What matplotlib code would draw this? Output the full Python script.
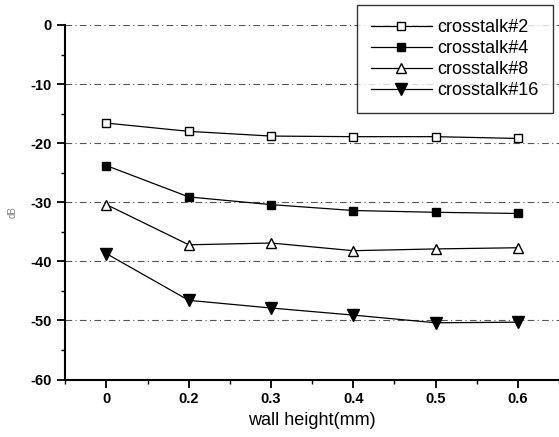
import matplotlib
matplotlib.use("Agg")
import matplotlib.pyplot as plt
from matplotlib.ticker import MultipleLocator, FixedLocator

plt.rcParams['font.family'] = ['Liberation Sans', 'DejaVu Sans']
plt.rcParams['axes.unicode_minus'] = False

wall_height = ["0", "0.2", "0.3", "0.4", "0.5", "0.6"]
crosstalk_2 = [-16.6, -18.0, -18.8, -18.9, -18.9, -19.2]
crosstalk_4 = [-23.8, -29.1, -30.4, -31.4, -31.7, -31.9]
crosstalk_8 = [-30.4, -37.2, -36.9, -38.2, -37.9, -37.7]
crosstalk_16 = [-38.7, -46.6, -47.9, -49.1, -50.4, -50.3]

series = [
    ("crosstalk#2", crosstalk_2, dict(marker="s", mfc="white", ms=6)),
    ("crosstalk#4", crosstalk_4, dict(marker="s", mfc="black", ms=5.5)),
    ("crosstalk#8", crosstalk_8, dict(marker="^", mfc="white", ms=7.5)),
    ("crosstalk#16", crosstalk_16, dict(marker="v", mfc="black", ms=8)),
]

W, H = 559, 437
fig = plt.figure(figsize=(W / 100, H / 100), dpi=100)
ax = fig.add_axes([64.5 / W, 1 - 379.5 / H, (W - 64.5) / W, (379.5 - 25) / H])

x = list(range(len(wall_height)))
for name, vals, style in series:
    ax.plot(x, vals, color="black", lw=0.9, mec="black", mew=1.0,
            label=name, **style)

# dash-dot reference lines at the major y levels
for yv in range(-50, 1, 10):
    ax.axhline(yv, color="#555555", lw=0.8, ls=(0, (6, 3, 1, 3)), zorder=0)

ax.set_xlim(-0.51, 5.5)
ax.set_ylim(-60, 0)
ax.set_xticks(x)
ax.set_xticklabels(wall_height)
ax.xaxis.set_minor_locator(FixedLocator([i + 0.5 for i in range(-1, 6)]))
ax.yaxis.set_major_locator(MultipleLocator(10))
ax.yaxis.set_minor_locator(MultipleLocator(5))

for side in ("top", "right"):
    ax.spines[side].set_visible(False)
for side in ("left", "bottom"):
    ax.spines[side].set_linewidth(1.5)

ax.tick_params(which="major", direction="out", length=6, width=1.3,
               labelsize=10.5, pad=3)
ax.tick_params(which="minor", direction="out", length=3, width=1.0)
for lab in ax.get_xticklabels() + ax.get_yticklabels():
    lab.set_fontweight("bold")

ax.set_xlabel("wall height(mm)", fontsize=13, labelpad=4)
fig.text(13 / W, 1 - 212 / H, "dB", fontsize=7, color="#888888",
         rotation=90, ha="center", va="center")

leg = ax.legend(loc="upper right", fontsize=13, frameon=True, fancybox=False,
                edgecolor="black", handlelength=3.4, handletextpad=0.3,
                labelspacing=0.22, borderpad=0.78, borderaxespad=0.0)
leg.get_frame().set_linewidth(1.0)
leg.set_bbox_to_anchor((553 / W, 1 - 5 / H), transform=fig.transFigure)

fig.savefig("out.png", dpi=100)
